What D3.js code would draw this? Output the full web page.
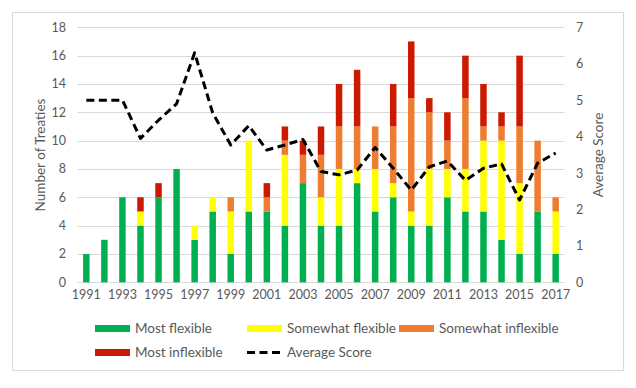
<!DOCTYPE html>
<html>
<head>
<meta charset="utf-8">
<script src="https://cdn.jsdelivr.net/npm/d3@7"></script>
<style>
  body { margin: 0; background: #fff; }
  svg text { font-family: Lato, "Open Sans", sans-serif; fill: #595959; }
</style>
</head>
<body>
<div id="chart"></div>
<script>
// Treaty flexibility by year: stacked counts + average score on a second axis.
const years = d3.range(1991, 2018);
const mostFlexible       = [2, 3, 6, 4, 6, 8, 3, 5, 2, 5, 5, 4, 7, 4, 4, 7, 5, 6, 4, 4, 6, 5, 5, 3, 2, 5, 2];
const somewhatFlexible   = [0, 0, 0, 1, 0, 0, 1, 1, 3, 5, 0, 5, 0, 2, 4, 1, 3, 1, 1, 4, 2, 3, 5, 7, 5, 0, 3];
const somewhatInflexible = [0, 0, 0, 0, 0, 0, 0, 0, 1, 0, 1, 1, 2, 3, 3, 3, 3, 4, 8, 4, 2, 5, 1, 1, 4, 5, 1];
const mostInflexible     = [0, 0, 0, 1, 1, 0, 0, 0, 0, 0, 1, 1, 1, 2, 3, 4, 0, 3, 4, 1, 2, 3, 3, 1, 5, 0, 0];
const averageScore = [5.0, 5.0, 5.0, 3.95, 4.45, 4.9, 6.3, 4.65, 3.77, 4.3, 3.63, 3.77, 3.92, 3.04, 2.95, 3.08,
                      3.7, 3.13, 2.53, 3.17, 3.33, 2.8, 3.13, 3.25, 2.26, 3.27, 3.55];
const leftTicks = d3.range(0, 19, 2);
const rightTicks = d3.range(0, 8, 1);
const xTickYears = years.filter((y) => (y - 1991) % 2 === 0);

const series = [
  { key: "Most flexible", values: mostFlexible, color: "#00b050" },
  { key: "Somewhat flexible", values: somewhatFlexible, color: "#ffff00" },
  { key: "Somewhat inflexible", values: somewhatInflexible, color: "#ed7d31" },
  { key: "Most inflexible", values: mostInflexible, color: "#cc1a00" },
];

const W = 636, H = 388;
const svg = d3.select("#chart").append("svg").attr("width", W).attr("height", H);

// chart frame
svg.append("rect").attr("x", 12.5).attr("y", 12.5).attr("width", 611).attr("height", 358)
  .attr("fill", "#fff").attr("stroke", "#d9d9d9");

const x = d3.scaleBand().domain(years).range([77.3, 564.7]).paddingInner(0.64).paddingOuter(0.32);
const y = d3.scaleLinear().domain([0, 18]).range([282.3, 27.3]);
const y2 = d3.scaleLinear().domain([0, 7]).range([282.3, 27.3]);

// gridlines
svg.append("g").selectAll("line").data(leftTicks).join("line")
  .attr("x1", 77.3).attr("x2", 564.7)
  .attr("y1", (d) => Math.round(y(d)) + 0.5).attr("y2", (d) => Math.round(y(d)) + 0.5)
  .attr("stroke", "#d9d9d9");

// stacked bars
const rows = years.map((yr, i) => {
  const r = { year: yr };
  series.forEach((s) => { r[s.key] = s.values[i]; });
  return r;
});
const stack = d3.stack().keys(series.map((s) => s.key))(rows);
svg.append("g").selectAll("g").data(stack).join("g")
  .attr("fill", (d, i) => series[i].color)
  .selectAll("rect").data((d) => d.filter((p) => p[1] > p[0])).join("rect")
  .attr("x", (d) => x(d.data.year))
  .attr("width", x.bandwidth())
  .attr("y", (d) => y(d[1]))
  .attr("height", (d) => y(d[0]) - y(d[1]));

// average score line
const line = d3.line().x((d, i) => x(years[i]) + x.bandwidth() / 2).y((d) => y2(d));
svg.append("path").datum(averageScore).attr("d", line)
  .attr("fill", "none").attr("stroke", "#000").attr("stroke-width", 3)
  .attr("stroke-dasharray", "8,4.5").attr("stroke-linejoin", "round");

// axes
const left = svg.append("g").attr("transform", "translate(66,0)")
  .call(d3.axisLeft(y).tickValues(leftTicks).tickSize(0).tickPadding(0));
const right = svg.append("g").attr("transform", "translate(576,0)")
  .call(d3.axisRight(y2).tickValues(rightTicks).tickFormat(d3.format("d")).tickSize(0).tickPadding(0));
const bottom = svg.append("g").attr("transform", "translate(0,290)")
  .call(d3.axisBottom(x).tickValues(xTickYears).tickSize(0).tickPadding(0));
[left, right, bottom].forEach((g) => {
  g.select(".domain").remove();
  g.selectAll("text").style("font-size", "12.5px").attr("fill", "#595959");
});
bottom.selectAll("text").attr("dy", "0.71em");

svg.append("text").attr("transform", "translate(40,155) rotate(-90)")
  .attr("text-anchor", "middle").attr("dy", "0.35em").style("font-size", "13.5px").text("Number of Treaties");
svg.append("text").attr("transform", "translate(598,155) rotate(-90)")
  .attr("text-anchor", "middle").attr("dy", "0.35em").style("font-size", "13.5px").text("Average Score");

// legend
const legendItems = [
  { label: "Most flexible", color: series[0].color, x: 95, y: 328.5 },
  { label: "Somewhat flexible", color: series[1].color, x: 247, y: 328.5 },
  { label: "Somewhat inflexible", color: series[2].color, x: 399, y: 328.5 },
  { label: "Most inflexible", color: series[3].color, x: 95, y: 352.5 },
  { label: "Average Score", color: null, x: 247, y: 352.5 },
];
const lg = svg.append("g").selectAll("g").data(legendItems).join("g")
  .attr("transform", (d) => `translate(${d.x},${d.y})`);
lg.filter((d) => d.color).append("rect")
  .attr("x", 0).attr("y", -3.5).attr("width", 35).attr("height", 7).attr("fill", (d) => d.color);
lg.filter((d) => !d.color).append("line")
  .attr("x1", 0).attr("x2", 35).attr("stroke", "#000").attr("stroke-width", 3).attr("stroke-dasharray", "8,4.5");
lg.append("text").attr("x", 40).attr("dy", "0.35em").style("font-size", "13.5px").text((d) => d.label);
</script>
</body>
</html>
